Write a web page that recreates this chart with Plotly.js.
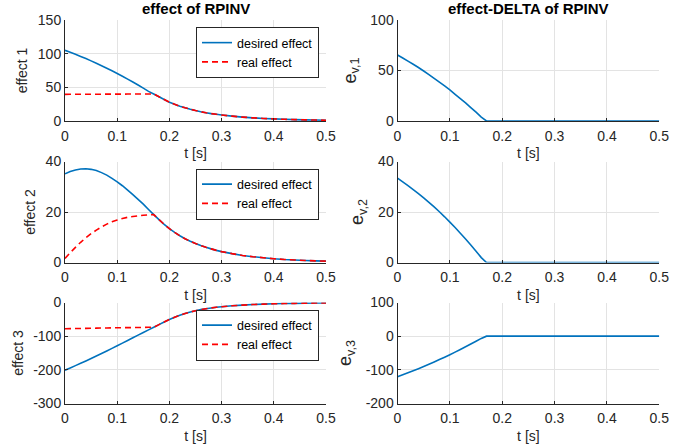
<!DOCTYPE html>
<html>
<head>
<meta charset="utf-8">
<script src="https://cdn.plot.ly/plotly-3.0.1.min.js"></script>
<style>html,body{margin:0;padding:0;background:#fff}#chart{width:692px;height:445px}</style>
</head>
<body>
<div id="chart"></div>
<script>
// time axis [s]
const t = [0,0.01,0.02,0.03,0.04,0.05,0.06,0.07,0.08,0.09,0.1,0.11,0.12,0.13,0.14,0.15,0.16,0.17,0.18,0.19,0.2,
  0.21,0.22,0.23,0.24,0.25,0.26,0.27,0.28,0.29,0.3,0.32,0.34,0.36,0.38,0.4,0.42,0.44,0.46,0.48,0.5];

// effect 1
const desired1 = [104.9,102.0,99.0,95.9,92.7,89.3,85.8,82.1,78.4,74.6,70.6,66.4,62.2,57.9,53.4,48.8,44.0,40.2,36.1,32.0,28.0,
  24.8,22.0,19.6,17.4,15.5,13.8,12.3,11.0,9.9,8.9,7.2,5.8,4.7,3.8,3.1,2.5,2.1,1.7,1.4,1.2];
const real1 = [39.6,39.63,39.66,39.7,39.73,39.76,39.8,39.83,39.86,39.9,39.93,39.96,40.0,40.03,40.07,40.1,40.15,40.2,36.1,32.0,28.0,
  24.8,22.0,19.6,17.4,15.5,13.8,12.3,11.0,9.9,8.9,7.2,5.8,4.7,3.8,3.1,2.5,2.1,1.7,1.4,1.2];
// effect 2
const desired2 = [35.1,36.0,36.6,37.0,37.1,36.9,36.4,35.6,34.6,33.3,31.9,30.4,28.7,26.9,25.0,23.1,21.0,18.95,17.0,15.1,13.4,
  11.9,10.6,9.4,8.4,7.5,6.7,6.0,5.4,4.8,4.3,3.5,2.8,2.3,1.9,1.5,1.2,1.0,0.8,0.65,0.55];
const real2 = [1.6,3.9,6.0,8.0,9.8,11.4,12.8,14.1,15.2,16.1,16.8,17.4,17.9,18.2,18.5,18.7,18.85,18.95,17.0,15.1,13.4,
  11.9,10.6,9.4,8.4,7.5,6.7,6.0,5.4,4.8,4.3,3.5,2.8,2.3,1.9,1.5,1.2,1.0,0.8,0.65,0.55];
// effect 3
const desired3 = [-201,-194.3,-187.5,-180.6,-173.6,-166.4,-159.1,-151.6,-144.0,-136.3,-128.5,-120.6,-112.8,-104.9,-97.0,-89.2,-81.3,-73.5,-65.7,-57.9,-50.5,
  -43.8,-37.8,-32.6,-28.2,-24.4,-21.2,-18.5,-16.2,-14.2,-12.5,-9.8,-7.7,-6.1,-4.9,-3.9,-3.1,-2.5,-2.0,-1.6,-1.3];
const real3 = [-78,-77.7,-77.4,-77.1,-76.8,-76.5,-76.2,-75.9,-75.6,-75.3,-75.0,-74.8,-74.6,-74.4,-74.2,-74.0,-73.7,-73.5,-65.7,-57.9,-50.5,
  -43.8,-37.8,-32.6,-28.2,-24.4,-21.2,-18.5,-16.2,-14.2,-12.5,-9.8,-7.7,-6.1,-4.9,-3.9,-3.1,-2.5,-2.0,-1.6,-1.3];
// effect deltas
const ev1 = [65.3,62.4,59.3,56.2,53.0,49.5,46.0,42.3,38.5,34.7,30.7,26.4,22.2,17.9,13.3,8.7,3.85,0,0,0,0,
  0,0,0,0,0,0,0,0,0,0,0,0,0,0,0,0,0,0,0,0];
const ev2 = [33.4,31.9,30.45,28.9,27.3,25.6,23.8,22.0,20.1,18.1,16.0,13.85,11.6,9.3,6.9,4.5,1.95,0,0,0,0,
  0,0,0,0,0,0,0,0,0,0,0,0,0,0,0,0,0,0,0,0];
const ev3 = [-120.6,-114.9,-109.0,-103.0,-96.6,-90.2,-83.5,-76.7,-69.6,-62.4,-55.0,-47.4,-39.6,-31.6,-23.4,-15.1,-6.6,0,0,0,0,
  0,0,0,0,0,0,0,0,0,0,0,0,0,0,0,0,0,0,0,0];

const leftTitles = ['effect 1','effect 2','effect 3'];
const rightTitles = ['e<sub>v,1</sub>','e<sub>v,2</sub>','e<sub>v,3</sub>'];
const leftTicks = [[0,50,100,150],[0,20,40],[-300,-200,-100,0]];
const rightTicks = [[0,50,100],[0,20,40],[-200,-100,0,100]];
const xTicks = [0,0.1,0.2,0.3,0.4,0.5];

const BLUE = '#0072BD', RED = '#FF0000', TXT = '#262626';
const W = 692, H = 445;
const FAM = 'Liberation Sans, Arial, sans-serif';
const font = {family:FAM, size:14, color:TXT};

const desired = [desired1,desired2,desired3];
const real = [real1,real2,real3];
const ev = [ev1,ev2,ev3];
const legNames = ['legend','legend2','legend3'];

const traces = [];
for (let i=0;i<3;i++){
  const k = 2*i+1;
  const xl = 'x'+(k===1?'':k), yl = 'y'+(k===1?'':k);
  traces.push({x:t,y:desired[i],type:'scatter',mode:'lines',name:'desired effect',
    line:{color:BLUE,width:1.6,simplify:false},xaxis:xl,yaxis:yl,legend:legNames[i]});
  traces.push({x:t,y:real[i],type:'scatter',mode:'lines',name:'real effect',
    line:{color:RED,width:1.6,dash:'6px,4px',simplify:false},xaxis:xl,yaxis:yl,legend:legNames[i]});
  traces.push({x:t,y:ev[i],type:'scatter',mode:'lines',showlegend:false,
    line:{color:BLUE,width:1.6,simplify:false},xaxis:'x'+(k+1),yaxis:'y'+(k+1)});
}

const rowsPx = [[20,121],[161.5,262.5],[302.5,403.5]];
const colsPx = [[65,326],[397.5,659.3]];
const layout = {
  width:W,height:H,margin:{l:0,r:0,t:0,b:0},
  paper_bgcolor:'#fff',plot_bgcolor:'#fff',font:font,showlegend:true,
  annotations:[
    {text:'<b>effect of RPINV</b>',x:(colsPx[0][0]+colsPx[0][1])/2/W,y:1-9/H,xref:'paper',yref:'paper',
     showarrow:false,font:{family:FAM,size:15,color:'#000'},xanchor:'center',yanchor:'middle'},
    {text:'<b>effect-DELTA of RPINV</b>',x:(colsPx[1][0]+colsPx[1][1])/2/W,y:1-9/H,xref:'paper',yref:'paper',
     showarrow:false,font:{family:FAM,size:15,color:'#000'},xanchor:'center',yanchor:'middle'}
  ]
};
const axBase = {showline:true,linecolor:TXT,linewidth:1,mirror:false,ticks:'inside',ticklen:3,tickcolor:TXT,
  showgrid:true,gridcolor:'#e3e3e3',gridwidth:1,zeroline:false,automargin:false,tickfont:font};
for (let i=0;i<3;i++){
  for (let c=0;c<2;c++){
    const n = 2*i+c+1;
    const key = n===1?'':n;
    const yt = c===0?leftTicks[i]:rightTicks[i];
    layout['xaxis'+key] = Object.assign({},axBase,{
      domain:[colsPx[c][0]/W,colsPx[c][1]/W],range:[0,0.5],tickvals:xTicks,ticktext:xTicks.map(v=>String(v)),
      ticklabelstandoff:2,anchor:'y'+key,title:{text:'t [s]',font:font,standoff:5}});
    layout['yaxis'+key] = Object.assign({},axBase,{
      domain:[1-rowsPx[i][1]/H,1-rowsPx[i][0]/H],
      range:[yt[0],yt[yt.length-1]],tickvals:yt,ticktext:yt.map(v=>String(v)),
      anchor:'x'+key,
      title:c===0?{text:leftTitles[i],font:font,standoff:6}
                 :{text:rightTitles[i],font:{family:FAM,size:18,color:TXT},standoff:9}});
  }
  layout[legNames[i]] = {x:319/W,y:1-(rowsPx[i][0]+7)/H,xanchor:'right',yanchor:'top',xref:'paper',yref:'paper',
    bgcolor:'#fff',bordercolor:TXT,borderwidth:1,font:{family:FAM,size:12.5,color:'#000'},
    itemwidth:30,tracegroupgap:0};
}
Plotly.newPlot('chart',traces,layout,{staticPlot:true,displayModeBar:false});
</script>
</body>
</html>
